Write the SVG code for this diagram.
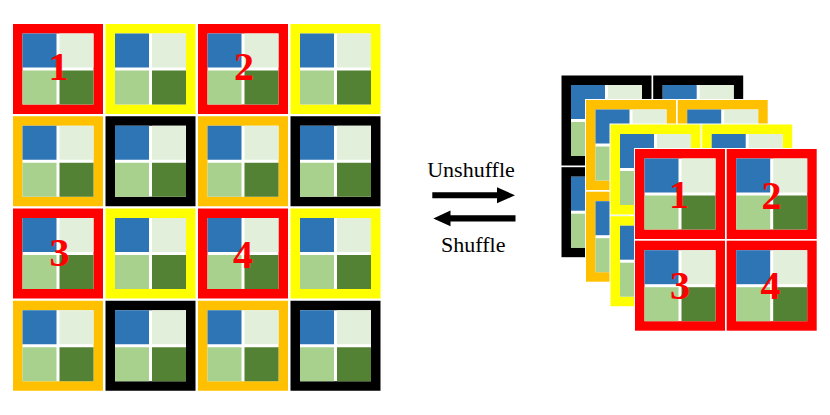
<svg xmlns="http://www.w3.org/2000/svg" xmlns:xlink="http://www.w3.org/1999/xlink" width="830" height="415" viewBox="0 0 830 415">
<style>
.red{fill:#FF0000}.yel{fill:#FFFF00}.org{fill:#FFC000}.blk{fill:#000000}
.num{font-family:"Liberation Serif","Times New Roman",serif;font-weight:bold;font-size:40px;fill:#FF0000;text-anchor:middle}
.lbl{font-family:"Liberation Serif","Times New Roman",serif;font-size:22px;fill:#000000;text-anchor:middle}
</style>
<defs>
<g id="inner">
<rect x="9.5" y="9.5" width="71" height="71" fill="#FFFFFF"/>
<rect x="9.5" y="9.5" width="34" height="34" fill="#2E75B6"/>
<rect x="46.5" y="9.5" width="34" height="34" fill="#E2EFDA"/>
<rect x="9.5" y="46.5" width="34" height="34" fill="#A9D18E"/>
<rect x="46.5" y="46.5" width="34" height="34" fill="#548235"/>
</g>
<rect id="halo" x="-1" y="-1" width="92" height="92" fill="#FFFFFF"/>
<g id="t-red"><use xlink:href="#halo"/><rect class="red" width="90" height="90"/><use xlink:href="#inner"/></g>
<g id="t-yel"><use xlink:href="#halo"/><rect class="yel" width="90" height="90"/><use xlink:href="#inner"/></g>
<g id="t-org"><use xlink:href="#halo"/><rect class="org" width="90" height="90"/><use xlink:href="#inner"/></g>
<g id="t-blk"><use xlink:href="#halo"/><rect class="blk" width="90" height="90"/><use xlink:href="#inner"/></g>
<g id="layer-blk"><use xlink:href="#t-blk"/><use xlink:href="#t-blk" x="91.7"/><use xlink:href="#t-blk" y="91.7"/><use xlink:href="#t-blk" x="91.7" y="91.7"/></g>
<g id="layer-org"><use xlink:href="#t-org"/><use xlink:href="#t-org" x="91.7"/><use xlink:href="#t-org" y="91.7"/><use xlink:href="#t-org" x="91.7" y="91.7"/></g>
<g id="layer-yel"><use xlink:href="#t-yel"/><use xlink:href="#t-yel" x="91.7"/><use xlink:href="#t-yel" y="91.7"/><use xlink:href="#t-yel" x="91.7" y="91.7"/></g>
<g id="layer-red"><use xlink:href="#t-red"/><use xlink:href="#t-red" x="91.7"/><use xlink:href="#t-red" y="91.7"/><use xlink:href="#t-red" x="91.7" y="91.7"/></g>
</defs>
<rect width="830" height="415" fill="#FFFFFF"/>

<g id="left-grid">
<g id="L11"><use xlink:href="#t-red" x="13" y="24"/></g>
<g id="L12"><use xlink:href="#t-yel" x="105.5" y="24"/></g>
<g id="L13"><use xlink:href="#t-red" x="198" y="24"/></g>
<g id="L14"><use xlink:href="#t-yel" x="290.5" y="24"/></g>
<g id="L21"><use xlink:href="#t-org" x="13" y="116.25"/></g>
<g id="L22"><use xlink:href="#t-blk" x="105.5" y="116.25"/></g>
<g id="L23"><use xlink:href="#t-org" x="198" y="116.25"/></g>
<g id="L24"><use xlink:href="#t-blk" x="290.5" y="116.25"/></g>
<g id="L31"><use xlink:href="#t-red" x="13" y="208.5"/></g>
<g id="L32"><use xlink:href="#t-yel" x="105.5" y="208.5"/></g>
<g id="L33"><use xlink:href="#t-red" x="198" y="208.5"/></g>
<g id="L34"><use xlink:href="#t-yel" x="290.5" y="208.5"/></g>
<g id="L41"><use xlink:href="#t-org" x="13" y="300.75"/></g>
<g id="L42"><use xlink:href="#t-blk" x="105.5" y="300.75"/></g>
<g id="L43"><use xlink:href="#t-org" x="198" y="300.75"/></g>
<g id="L44"><use xlink:href="#t-blk" x="290.5" y="300.75"/></g>
<text class="num" x="58.5" y="80">1</text>
<text class="num" x="244" y="80">2</text>
<text class="num" x="59.5" y="266">3</text>
<text class="num" x="243" y="268">4</text>
</g>

<g id="right-stack">
<g id="R-black"><use xlink:href="#layer-blk" x="561.5" y="75.5"/></g>
<g id="R-orange"><use xlink:href="#layer-org" x="586" y="100"/></g>
<g id="R-yellow"><use xlink:href="#layer-yel" x="610.5" y="124.5"/></g>
<g id="R-red"><use xlink:href="#layer-red" x="635" y="149"/>
<text class="num" x="679" y="208">1</text>
<text class="num" x="771.5" y="209">2</text>
<text class="num" x="680" y="299">3</text>
<text class="num" x="770.5" y="299">4</text>
</g>
</g>

<g id="connectors">
<g id="unshuffle">
<path d="M432.3 192.3 H497 V187.3 L515 195.3 L497 203.3 V198.3 H432.3 Z" fill="#000000"/>
<text class="lbl" x="471" y="177.3">Unshuffle</text>
</g>
<g id="shuffle">
<path d="M515.5 215.2 H450.5 V210.6 L433.3 218.4 L450.5 226.2 V221.6 H515.5 Z" fill="#000000"/>
<text class="lbl" x="473.3" y="251.7">Shuffle</text>
</g>
</g>
</svg>
